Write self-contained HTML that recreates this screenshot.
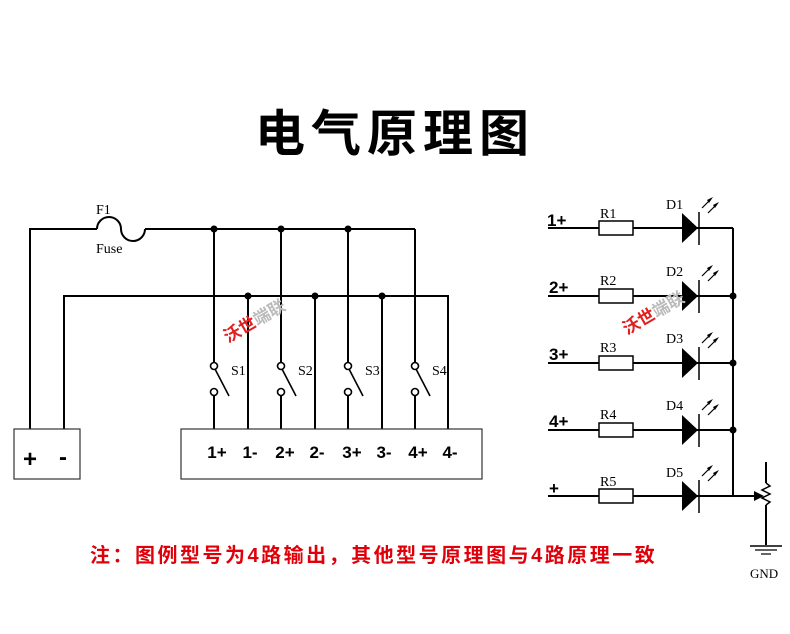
<!DOCTYPE html>
<html><head><meta charset="utf-8"><style>
html,body{margin:0;padding:0;background:#fff;}
body{width:790px;height:634px;position:relative;overflow:hidden;font-family:"Liberation Sans","Noto Sans CJK SC",sans-serif;}
.title{position:absolute;left:0;width:790px;top:100px;text-align:center;font-size:50px;font-weight:bold;letter-spacing:6px;line-height:60px;font-family:"Noto Sans CJK SC",sans-serif;}
.note{position:absolute;left:90px;top:542px;font-size:20px;font-weight:bold;color:#e0000a;letter-spacing:2.5px;line-height:28px;font-family:"Liberation Sans","Noto Sans CJK SC",sans-serif;white-space:nowrap;}
svg{position:absolute;left:0;top:0;}
</style></head><body>
<div class="title">电气原理图</div>
<svg width="790" height="634" viewBox="0 0 790 634" font-family="Liberation Serif, serif">
<g stroke="#000" stroke-width="2" fill="none">
<!-- top wire -->
<polyline points="30,429 30,229 97,229"/>
<path d="M97,229 A12,12 0 0 1 121,229 A12,12 0 0 0 145,229"/>
<line x1="145" y1="229" x2="415" y2="229"/>
<line x1="415" y1="229" x2="415" y2="362"/>
<!-- second wire -->
<polyline points="64,429 64,296 448,296 448,429"/>
<line x1="248" y1="296" x2="248" y2="429"/>
<line x1="315" y1="296" x2="315" y2="429"/>
<line x1="382" y1="296" x2="382" y2="429"/>
<!-- switches -->
<line x1="214" y1="229" x2="214" y2="362"/>
<line x1="281" y1="229" x2="281" y2="362"/>
<line x1="348" y1="229" x2="348" y2="362"/>
</g>
<g stroke="#000" stroke-width="1.6" fill="#fff">
<g id="sw">
<circle cx="214" cy="366" r="3.5"/><circle cx="214" cy="392" r="3.5"/>
<line x1="215" y1="369" x2="229" y2="396"/>
<line x1="214" y1="396" x2="214" y2="429" stroke-width="2"/>
</g>
<use href="#sw" x="67"/><use href="#sw" x="134"/><use href="#sw" x="201"/>
</g>
<g fill="#000">
<circle cx="214" cy="229" r="3.5"/><circle cx="281" cy="229" r="3.5"/><circle cx="348" cy="229" r="3.5"/>
<circle cx="248" cy="296" r="3.5"/><circle cx="315" cy="296" r="3.5"/><circle cx="382" cy="296" r="3.5"/>
</g>
<g font-size="14" fill="#000">
<text x="96" y="214">F1</text><text x="96" y="253">Fuse</text>
<text x="231" y="375">S1</text><text x="298" y="375">S2</text><text x="365" y="375">S3</text><text x="432" y="375">S4</text>
</g>
<!-- boxes -->
<rect x="14" y="429" width="66" height="50" fill="none" stroke="#333" stroke-width="1.2"/>
<rect x="181" y="429" width="301" height="50" fill="none" stroke="#333" stroke-width="1.2"/>
<g font-family="Liberation Sans, sans-serif" font-weight="bold" fill="#000">
<text x="30" y="467" font-size="24" text-anchor="middle">+</text>
<text x="63" y="465" font-size="24" text-anchor="middle">-</text>
<g font-size="17" text-anchor="middle">
<text x="217" y="458">1+</text><text x="250" y="458">1-</text>
<text x="285" y="458">2+</text><text x="317" y="458">2-</text>
<text x="352" y="458">3+</text><text x="384" y="458">3-</text>
<text x="418" y="458">4+</text><text x="450" y="458">4-</text>
</g>
</g>
<!-- right circuit -->
<g id="row">
<line x1="548" y1="228" x2="599" y2="228" stroke="#000" stroke-width="2"/>
<rect x="599" y="221" width="34" height="14" fill="#fff" stroke="#000" stroke-width="1.5"/>
<line x1="633" y1="228" x2="733" y2="228" stroke="#000" stroke-width="2"/>
<polygon points="682,213 682,243 698,228" fill="#000"/>
<line x1="699" y1="212" x2="699" y2="245" stroke="#000" stroke-width="1.5"/>
<g stroke="#000" stroke-width="1.2"><line x1="702" y1="208" x2="711" y2="199"/><line x1="708" y1="213" x2="717" y2="204"/></g>
<polygon points="713,197 709,203 707,200" fill="#000"/>
<polygon points="719,202 715,208 713,205" fill="#000"/>
</g>
<use href="#row" y="68"/><use href="#row" y="135"/><use href="#row" y="202"/><use href="#row" y="268"/>
<g stroke="#000" stroke-width="2" fill="none">
<line x1="733" y1="228" x2="733" y2="496"/>
<line x1="733" y1="496" x2="755" y2="496"/>
<line x1="766" y1="462" x2="766" y2="483"/>
<polyline points="766,483 770,486 762,490 770,494 762,498 770,502 766,505" stroke-width="1.5"/>
<line x1="766" y1="505" x2="766" y2="545"/>
<line x1="750" y1="546" x2="782" y2="546" stroke-width="1.5"/>
<line x1="755" y1="550" x2="777" y2="550" stroke-width="1.2"/>
<line x1="761" y1="554" x2="771" y2="554" stroke-width="1.2"/>
</g>
<polygon points="754,491 764,496 754,501" fill="#000"/>
<g fill="#000"><circle cx="733" cy="296" r="3.5"/><circle cx="733" cy="363" r="3.5"/><circle cx="733" cy="430" r="3.5"/></g>
<g font-size="14" fill="#000">
<text x="600" y="218">R1</text><text x="600" y="285">R2</text><text x="600" y="352">R3</text><text x="600" y="419">R4</text><text x="600" y="486">R5</text>
<text x="666" y="209">D1</text><text x="666" y="276">D2</text><text x="666" y="343">D3</text><text x="666" y="410">D4</text><text x="666" y="477">D5</text>
<text x="750" y="578" font-size="13">GND</text>
</g>
<g font-family="Liberation Sans, sans-serif" font-weight="bold" font-size="17" fill="#000">
<text x="547" y="226">1+</text><text x="549" y="293">2+</text><text x="549" y="360">3+</text><text x="549" y="427">4+</text><text x="549" y="494">+</text>
</g>
<!-- watermarks -->
<g font-family="Noto Sans CJK SC, sans-serif" font-weight="bold" font-size="17">
<text transform="translate(228,343) rotate(-30)"><tspan fill="#e02020">沃世</tspan><tspan fill="#bbb">端联</tspan></text>
<text transform="translate(627,335) rotate(-30)"><tspan fill="#e02020">沃世</tspan><tspan fill="#bbb">端联</tspan></text>
</g>
</svg>
<div class="note">注：图例型号为4路输出，其他型号原理图与4路原理一致</div>
</body></html>
